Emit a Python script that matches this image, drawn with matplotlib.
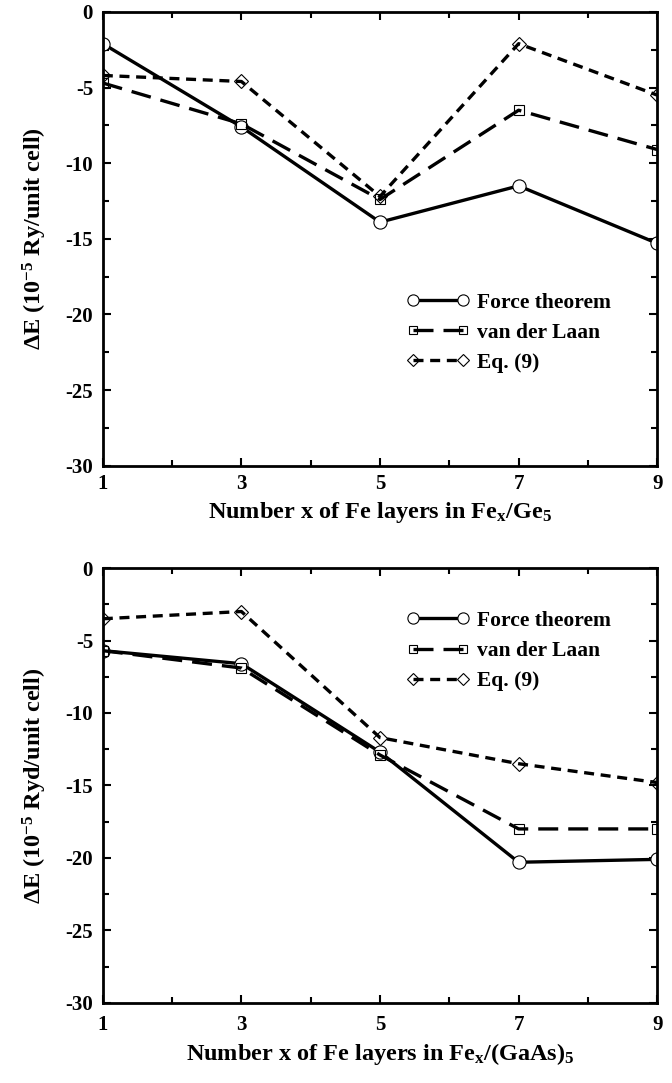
"""
Magnetic anisotropy energy vs number of Fe layers, two panels.
"""

# Imports
import matplotlib
matplotlib.use("Agg")
import matplotlib.pyplot as plt
from matplotlib.ticker import MultipleLocator

# ----------------------------------------------------------------------------------------------------------------------

layers = [1, 3, 5, 7, 9]

# Fe_x/Ge_5
ge_force = [-2.1, -7.6, -13.9, -11.5, -15.3]
ge_vdl = [-4.7, -7.4, -12.4, -6.5, -9.1]
ge_eq9 = [-4.2, -4.6, -12.2, -2.1, -5.5]

# Fe_x/(GaAs)_5
gaas_force = [-5.7, -6.6, -12.7, -20.3, -20.1]
gaas_vdl = [-5.7, -6.9, -12.9, -18.0, -18.0]
gaas_eq9 = [-3.5, -3.0, -11.7, -13.5, -14.8]

labels = ["Force theorem", "van der Laan", "Eq. (9)"]

plt.rcParams['font.family'] = ['Liberation Serif', 'DejaVu Serif']
plt.rcParams['font.weight'] = 'bold'
plt.rcParams['mathtext.fontset'] = 'custom'
plt.rcParams['mathtext.rm'] = 'Liberation Serif:bold'
plt.rcParams['mathtext.it'] = 'Liberation Serif:bold'
plt.rcParams['mathtext.bf'] = 'Liberation Serif:bold'

# ----------------------------------------------------------------------------------------------------------------------


def drawPanel(ax, force, vdl, eq9, xlabel, ylabel, legendAnchor, xpad):
    """
    Draw one panel with the three data sets and its legend.
    """
    ax.plot(layers, force, color='black', linestyle='-', linewidth=2.4, marker='o', markersize=9.5,
            markerfacecolor='white', markeredgewidth=0.8, label=labels[0])
    ax.plot(layers, vdl, color='black', linestyle=(0, (6, 3)), linewidth=2.4, marker='s', markersize=7.5,
            markerfacecolor='none', markeredgewidth=0.8, label=labels[1])
    ax.plot(layers, eq9, color='black', linestyle=(0, (3, 2)), linewidth=2.4, marker='D', markersize=7.5,
            markerfacecolor='none', markeredgewidth=0.8, label=labels[2])

    ax.set_xlim(1, 9)
    ax.set_ylim(-30, 0)
    ax.set_xticks(layers)
    ax.xaxis.set_minor_locator(MultipleLocator(1))
    ax.yaxis.set_major_locator(MultipleLocator(5))
    ax.yaxis.set_minor_locator(MultipleLocator(2.5))
    ax.tick_params(which='both', direction='in', top=True, right=True, width=1.5, labelsize=15)
    ax.tick_params(which='major', length=6)
    ax.tick_params(which='minor', length=4)
    ax.tick_params(axis='y', pad=7)
    ax.tick_params(axis='x', pad=xpad)
    for spine in ax.spines.values():
        spine.set_linewidth(2)
    ax.set_yticklabels([str(int(v)) for v in ax.get_yticks()])

    ax.set_xlabel(xlabel, fontsize=17.5, fontweight='bold', labelpad=4)
    ax.set_ylabel(ylabel, fontsize=17.5, fontweight='bold', labelpad=12)

    leg = ax.legend(loc='center left', bbox_to_anchor=legendAnchor, frameon=False, fontsize=15.5, numpoints=2,
                    handlelength=2.9, handletextpad=0.35, labelspacing=0.47, borderaxespad=0, borderpad=0,
                    markerscale=0.85)
    for t in leg.get_texts():
        t.set_fontweight('bold')


# ----------------------------------------------------------------------------------------------------------------------

fig = plt.figure(figsize=(6.72, 10.83), dpi=100)
axTop = fig.add_axes([0.153, 0.570, 0.825, 0.419])
axBot = fig.add_axes([0.153, 0.074, 0.825, 0.4015])

drawPanel(axTop, ge_force, ge_vdl, ge_eq9, r'Number x of Fe layers in Fe$_\mathregular{x}$/Ge$_\mathregular{5}$',
          r'$\Delta$E (10$^{\mathregular{-5}}$ Ry/unit cell)', (0.548, 0.293), 6)
drawPanel(axBot, gaas_force, gaas_vdl, gaas_eq9,
          r'Number x of Fe layers in Fe$_\mathregular{x}$/(GaAs)$_\mathregular{5}$',
          r'$\Delta$E (10$^{\mathregular{-5}}$ Ryd/unit cell)', (0.548, 0.809), 9)

fig.savefig("out.png", dpi=100)
